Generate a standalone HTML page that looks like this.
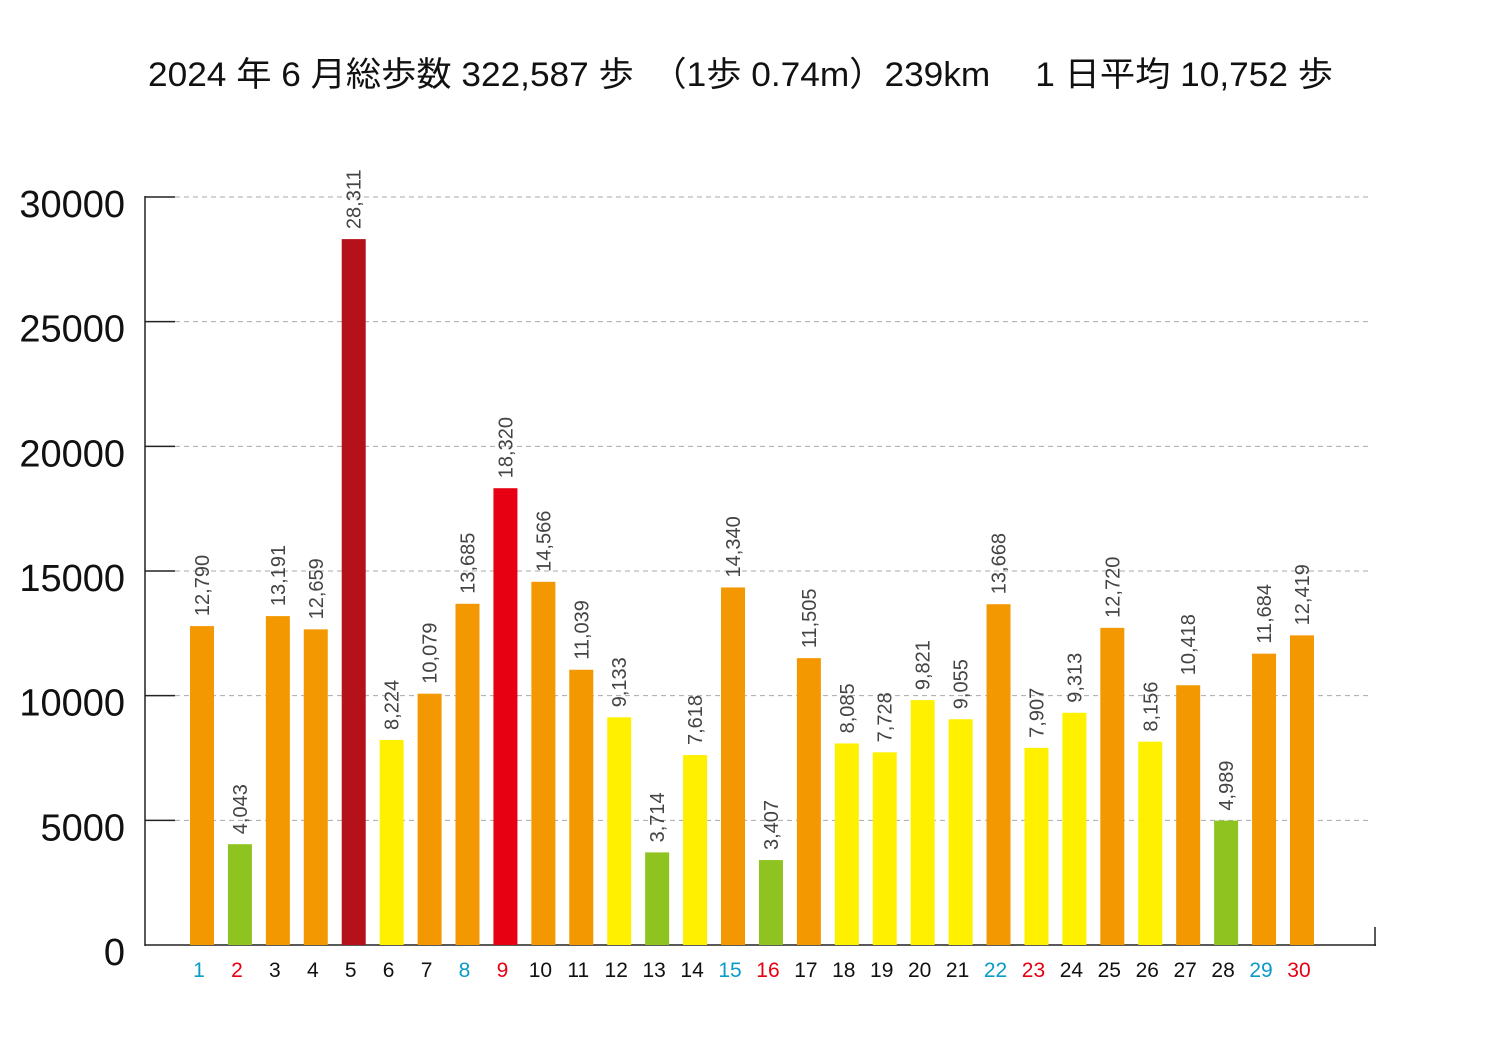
<!DOCTYPE html>
<html><head><meta charset="utf-8"><style>
body{margin:0;background:#fff;}
svg{display:block;font-family:"Liberation Sans","Noto Sans CJK JP",sans-serif;}
</style></head><body>
<svg id="s" width="1500" height="1050" xmlns="http://www.w3.org/2000/svg">
<text x="148" y="86" font-size="34" fill="#111" textLength="1185" lengthAdjust="spacingAndGlyphs">2024 年 6 月総歩数 322,587 歩　（1歩  0.74m）239km　 1 日平均 10,752 歩</text>
</svg>
<script>
const s=document.getElementById('s');const NS='http://www.w3.org/2000/svg';
function el(t,a,txt){const e=document.createElementNS(NS,t);for(const k in a)e.setAttribute(k,a[k]);if(txt!=null)e.textContent=txt;s.appendChild(e);return e;}
const y0=945,ppu=(945-197)/30000;
for(let v=5000;v<=30000;v+=5000){const y=y0-v*ppu;
el('line',{x1:175,x2:1370,y1:y,y2:y,stroke:'#aaa','stroke-width':1,'stroke-dasharray':'5,4'});
el('line',{x1:145,x2:175,y1:y,y2:y,stroke:'#222','stroke-width':1.5});}
for(let v=0;v<=30000;v+=5000){el('text',{x:125,y:y0-v*ppu+20,'font-size':38,'text-anchor':'end',fill:'#111'},String(v));}
el('line',{x1:145,x2:145,y1:196,y2:946,stroke:'#222','stroke-width':1.5});
el('line',{x1:145,x2:1376,y1:945,y2:945,stroke:'#222','stroke-width':1.5});
el('line',{x1:1375,x2:1375,y1:927,y2:946,stroke:'#222','stroke-width':1.5});
const d=[12790,4043,13191,12659,28311,8224,10079,13685,18320,14566,11039,9133,3714,7618,14340,3407,11505,8085,7728,9821,9055,13668,7907,9313,12720,8156,10418,4989,11684,12419];
d.forEach((v,i)=>{const cx=202+i*37.93;const day=i+1;
let c=v<5000?'#8FC31F':v<10000?'#FFF000':'#F39800';
if(v===18320)c='#E60012';if(v===28311)c='#B5111B';
const top=y0-v*ppu;
el('rect',{x:cx-12,y:top,width:24,height:y0-top,fill:c});
const lab=v.toLocaleString('en-US');
el('text',{x:0,y:0,'font-size':20,fill:'#444',transform:`translate(${cx+7},${top-10}) rotate(-90)`},lab);
let dc='#111';if(day%7===1)dc='#0A9BC8';if(day%7===2)dc='#E60012';
el('text',{x:cx-3,y:977,'font-size':21,'text-anchor':'middle',fill:dc},String(day));
});
</script>
</body></html>
